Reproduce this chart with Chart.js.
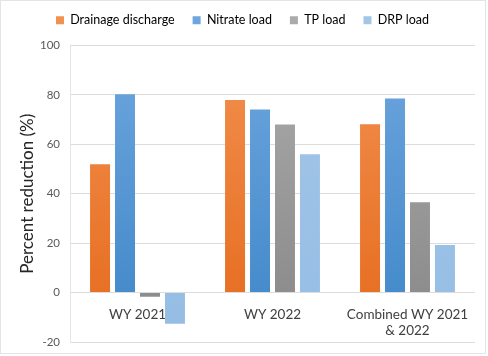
<!DOCTYPE html>
<html>
<head>
<meta charset="utf-8">
<script src="https://cdn.jsdelivr.net/npm/chart.js@4"></script>
<style>
html,body{margin:0;padding:0;background:#fff;}
#wrap{width:488px;height:356px;position:relative;}
</style>
</head>
<body>
<div id="wrap"><canvas id="c" width="488" height="356"></canvas></div>
<script>
const categories = ["WY 2021", "WY 2022", ["Combined WY 2021", "& 2022"]];
const seriesNames = ["Drainage discharge", "Nitrate load", "TP load", "DRP load"];
const drainageDischarge = [51.9, 77.9, 68.1];
const nitrateLoad = [80.3, 74.1, 78.5];
const tpLoad = [-1.7, 68.0, 36.6];
const drpLoad = [-12.6, 56.0, 19.3];
const yTicks = [-20, 0, 20, 40, 60, 80, 100];

const colorPairs = [
  ["#f2904f", "#e56a1c"],
  ["#6ea6de", "#3e86c8"],
  ["#ababab", "#878787"],
  ["#a3c6e8", "#95bde4"]
];

function grad(i) {
  return function(ctx) {
    const chart = ctx.chart;
    const area = chart.chartArea;
    if (!area) return colorPairs[i][1];
    const g = chart.ctx.createLinearGradient(0, area.top, 0, area.bottom);
    g.addColorStop(0, colorPairs[i][0]);
    g.addColorStop(1, colorPairs[i][1]);
    return g;
  };
}

const seriesValues = [drainageDischarge, nitrateLoad, tpLoad, drpLoad];

const borderPlugin = {
  id: 'frame',
  beforeLayout(chart) {
    const lg = chart.legend;
    if (lg && !lg._patched) {
      const orig = lg.fit;
      lg.fit = function() { orig.call(this); this.height += 9; };
      lg._patched = true;
    }
  },
  afterDraw(chart) {
    const c = chart.ctx;
    c.save();
    c.strokeStyle = '#e1e4e9';
    c.lineWidth = 1;
    c.strokeRect(0.5, 0.5, 485, 353);
    c.restore();
  }
};

new Chart(document.getElementById('c'), {
  type: 'bar',
  data: {
    labels: categories,
    datasets: seriesNames.map((n, i) => ({
      label: n,
      data: seriesValues[i],
      backgroundColor: grad(i),
      borderWidth: 0,
      categoryPercentage: 0.74,
      barPercentage: 0.8
    }))
  },
  options: {
    responsive: false,
    animation: false,
    layout: { padding: { left: 10, right: 13, top: -4, bottom: 0 } },
    plugins: {
      legend: {
        position: 'top',
        labels: {
          boxWidth: 8, boxHeight: 8, padding: 18,
          color: '#404040',
          font: { family: 'Lato', size: 12.5 },
          generateLabels(chart) {
            return chart.data.datasets.map((d, i) => ({
              text: d.label,
              fillStyle: colorPairs[i][0],
              strokeStyle: colorPairs[i][0],
              lineWidth: 0,
              datasetIndex: i,
              hidden: false
            }));
          }
        }
      },
      tooltip: { enabled: false }
    },
    scales: {
      x: {
        position: { y: 0 },
        grid: { display: false, drawTicks: false },
        border: { display: false },
        ticks: { color: '#404040', font: { family: 'Lato', size: 13.5 }, padding: 14, maxRotation: 0 }
      },
      y: {
        min: -20, max: 100,
        afterBuildTicks(scale) { scale.ticks = yTicks.map(v => ({ value: v })); },
        afterFit(scale) { scale.width = 60; scale.paddingBottom = 14; scale.paddingTop = 4; },
        grid: { color: '#dcdcdc', drawTicks: false },
        border: { display: true, color: '#e4e4e4' },
        ticks: { color: '#595959', font: { family: 'Lato', size: 11.5 }, padding: 10 },
        title: {
          display: true, text: 'Percent reduction (%)',
          color: '#262626', font: { family: 'Lato', size: 17 },
          padding: { top: 7, bottom: 0 }
        }
      }
    }
  },
  plugins: [borderPlugin]
});
</script>
</body>
</html>
